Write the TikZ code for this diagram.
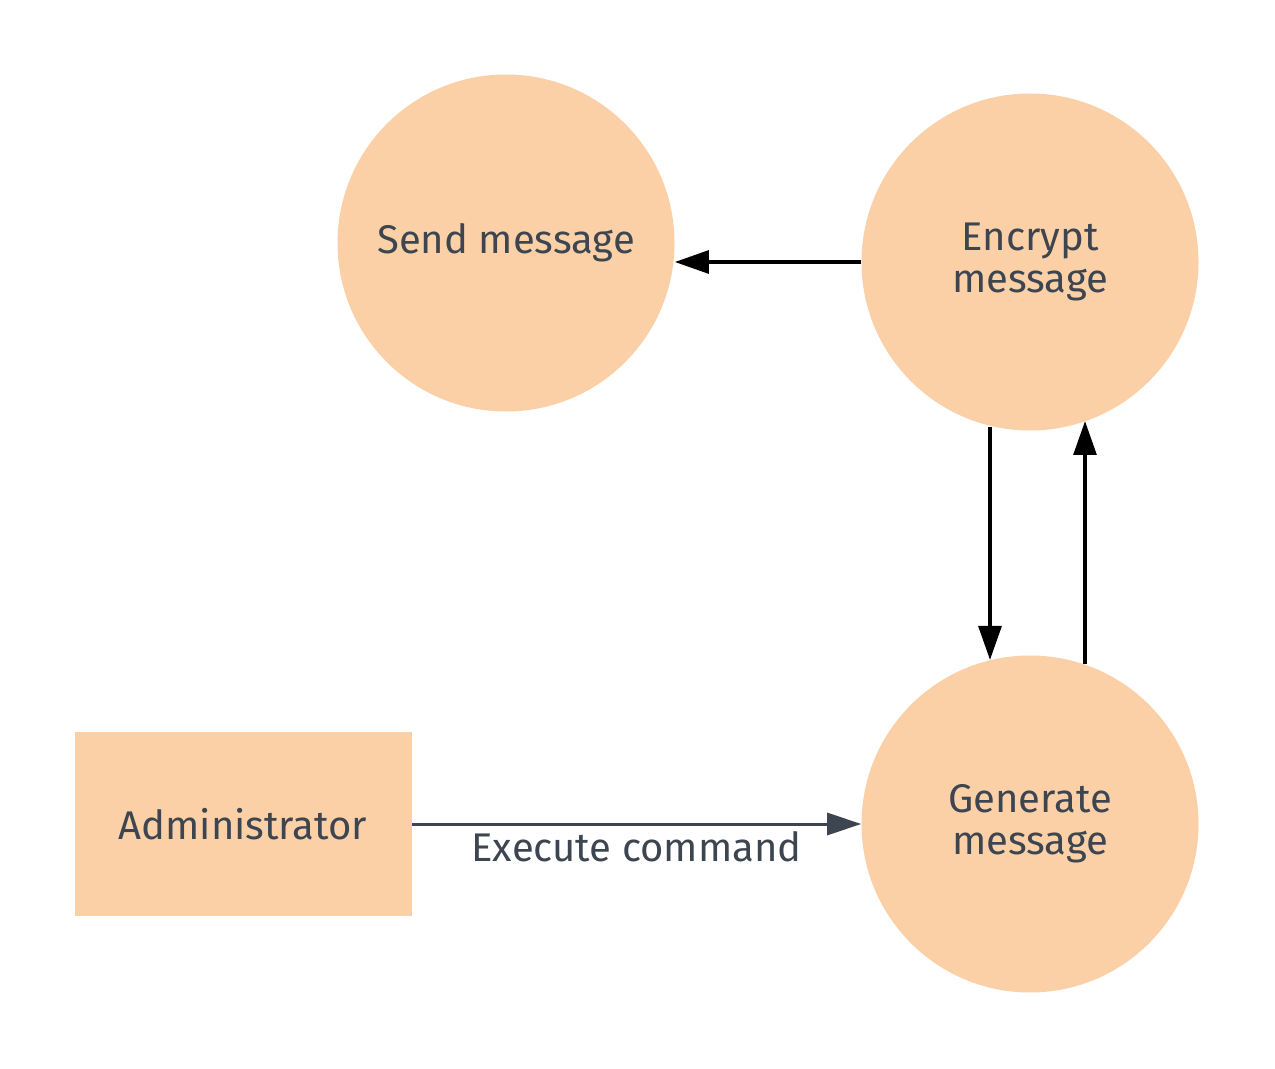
\documentclass[tikz,border=0pt]{standalone}
\usepackage{fontspec}
\setmainfont{Fira Sans}
\usetikzlibrary{arrows.meta}
\definecolor{peach}{HTML}{FBD0A6}
\definecolor{ink}{HTML}{3C4550}
\begin{document}
\begin{tikzpicture}[x=0.75pt,y=-0.75pt,
  lbl/.style={text=ink,font=\fontsize{30}{31.5}\selectfont},
  proc/.style={circle,fill=peach,minimum size=337*0.75pt,inner sep=0pt,align=center,lbl},
  ext/.style={rectangle,fill=peach,minimum width=337*0.75pt,minimum height=184*0.75pt,inner sep=0pt,lbl},
  flow/.style={line width=3pt,-{Triangle[length=25.5pt,width=17pt]}},
  cmd/.style={draw=ink,line width=2.25pt,-{Triangle[length=25.5pt,width=16.5pt]}}]
\useasboundingbox (0,0) rectangle (1275,1069);
\node[proc] (send) at (506,243) {Send message};
\node[proc] (enc) at (1030,262) {Encrypt\\message};
\node[proc] (gen) at (1030,824) {Generate\\message};
\node[ext] (admin) at (243,824) {Administrator};
\draw[flow] (enc.west) -- (send.east |- enc.west);
\coordinate (a1) at (990,427);
\coordinate (a2) at (990,660);
\coordinate (b1) at (1085,664);
\coordinate (b2) at (1085,421);
\draw[flow] (a1) -- (a2);
\draw[flow] (b1) -- (b2);
\draw[cmd] (admin.east) -- node[below=1pt,lbl]{Execute command} (gen.west);
\end{tikzpicture}
\end{document}
